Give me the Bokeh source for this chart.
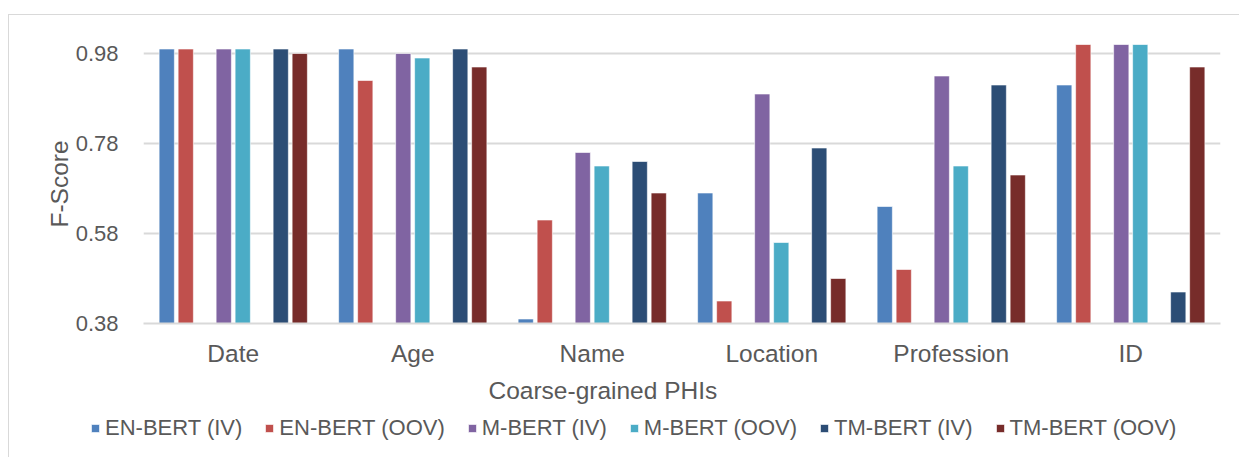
from bokeh.plotting import figure
from bokeh.models import (ColumnDataSource, FactorRange, FixedTicker, NumeralTickFormatter,
                          Legend, LegendItem, Title)
from bokeh.transform import dodge
from bokeh.layouts import column, row
from bokeh.embed import file_html
from bokeh.resources import INLINE

categories = ["Date", "Age", "Name", "Location", "Profession", "ID"]
series_names = ["EN-BERT (IV)", "EN-BERT (OOV)", "M-BERT (IV)",
                "M-BERT (OOV)", "TM-BERT (IV)", "TM-BERT (OOV)"]
en_bert_iv = [0.99, 0.99, 0.39, 0.67, 0.64, 0.91]
en_bert_oov = [0.99, 0.92, 0.61, 0.43, 0.50, 1.00]
m_bert_iv = [0.99, 0.98, 0.76, 0.89, 0.93, 1.00]
m_bert_oov = [0.99, 0.97, 0.73, 0.56, 0.73, 1.00]
tm_bert_iv = [0.99, 0.99, 0.74, 0.77, 0.91, 0.45]
tm_bert_oov = [0.98, 0.95, 0.67, 0.48, 0.71, 0.95]
y_ticks = [0.38, 0.58, 0.78, 0.98]

colors = ["#4f81bd", "#c0504d", "#8064a2", "#4bacc6", "#2c4d75", "#772c2a"]
# bars sit in pairs, with an empty slot between each pair
offsets = [-0.3705, -0.2646, -0.0529, 0.0529, 0.2646, 0.3705]
bar_width = 0.085
y_min, y_max = 0.38, 1.0

src = ColumnDataSource(dict(cat=categories, s0=en_bert_iv, s1=en_bert_oov, s2=m_bert_iv,
                            s3=m_bert_oov, s4=tm_bert_iv, s5=tm_bert_oov))

TEXT = "#595959"
FONT = "Liberation Sans"

p = figure(x_range=FactorRange(*categories), y_range=(y_min, y_max),
           width=1230, height=397, frame_width=1077, frame_height=279,
           min_border_left=134, min_border_right=19, min_border_top=29, min_border_bottom=89,
           output_backend="svg", toolbar_location=None)
p.outline_line_color = None
p.background_fill_color = "white"
p.border_fill_color = "white"

for i in range(len(series_names)):
    p.vbar(x=dodge("cat", offsets[i], range=p.x_range), top="s%d" % i, bottom=y_min,
           width=bar_width, source=src, fill_color=colors[i],
           line_color="white", line_width=0.6)

p.xgrid.grid_line_color = None
p.ygrid.grid_line_color = "#d9d9d9"
p.ygrid.grid_line_width = 1.8
p.ygrid.ticker = FixedTicker(ticks=y_ticks)

ya = p.yaxis[0]
ya.ticker = FixedTicker(ticks=y_ticks)
ya.formatter = NumeralTickFormatter(format="0.00")
ya.axis_line_color = None
ya.major_tick_line_color = None
ya.minor_tick_line_color = None
ya.major_label_text_font = FONT
ya.major_label_text_font_size = "22px"
ya.major_label_text_color = TEXT
ya.major_label_standoff = 19
ya.axis_label = "F-Score"
ya.axis_label_text_font = FONT
ya.axis_label_text_font_size = "24.5px"
ya.axis_label_text_font_style = "normal"
ya.axis_label_text_color = TEXT
ya.axis_label_standoff = 0

xa = p.xaxis[0]
xa.axis_line_color = "#d9d9d9"
xa.axis_line_width = 1.8
xa.major_tick_line_color = None
xa.minor_tick_line_color = None
xa.major_label_text_font = FONT
xa.major_label_text_font_size = "24.5px"
xa.major_label_text_color = TEXT
xa.major_label_standoff = 10

# x-axis title, sitting under the category labels
p.add_layout(Title(text="Coarse-grained PHIs", align="left", offset=345, standoff=10,
                   text_font=FONT, text_font_size="24.5px", text_font_style="normal",
                   text_color=TEXT), "below")

# legend strip under the chart; swatch renderers hold one bar placed off-range
lg = figure(width=1230, height=45, x_range=(0, 1), y_range=(0, 1),
            min_border_left=0, min_border_right=0, min_border_top=0, min_border_bottom=0,
            x_axis_location=None, y_axis_location=None,
            output_backend="svg", toolbar_location=None)
lg.outline_line_color = None
lg.grid.grid_line_color = None
items = []
for i, name in enumerate(series_names):
    r = lg.vbar(x=[-5.0], top=[-5.0], bottom=[-6.0], width=0.1, fill_color=colors[i],
                line_color="white", line_width=0.6)
    items.append(LegendItem(label=name, renderers=[r]))

legend = Legend(items=items, orientation="horizontal", location=(81, 16),
                padding=0, margin=0, spacing=22, label_standoff=5,
                glyph_width=10, glyph_height=10, label_height=24,
                label_text_font=FONT, label_text_font_size="22px",
                label_text_color=TEXT, border_line_color=None,
                background_fill_alpha=0)
lg.add_layout(legend, "center")

page = column(p, row(lg), spacing=0,
              styles={"margin-left": "8px", "margin-top": "14px",
                      "border-left": "1px solid #d9d9d9",
                      "border-top": "1px solid #d9d9d9"})

open("out.html", "w").write(file_html(page, INLINE))
